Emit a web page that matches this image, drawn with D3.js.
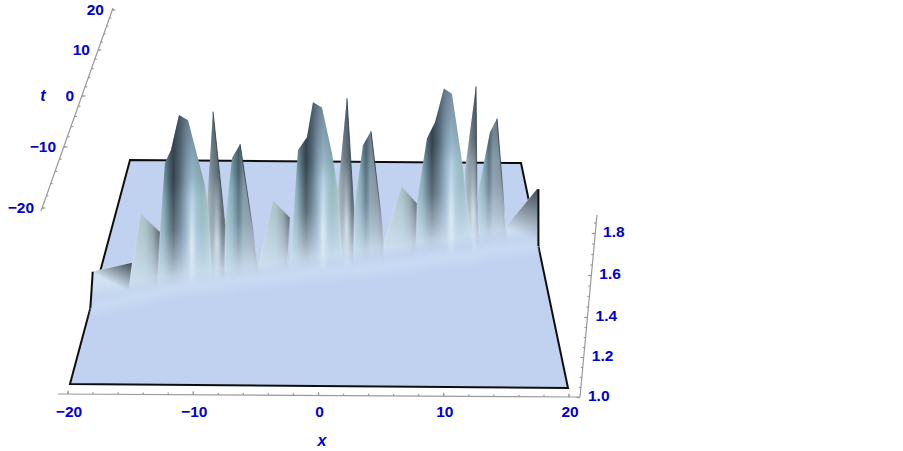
<!DOCTYPE html>
<html>
<head>
<meta charset="utf-8">
<script src="https://cdn.jsdelivr.net/npm/d3@7/dist/d3.min.js"></script>
<style type="text/css">
  html, body{
    margin: 0;
    background: white;
  }
  text{
    font-family: 'Liberation Sans', Arial, sans-serif;
    font-weight: bold;
    font-size: 15.5px;
    fill: #0000cc;
  }
  .axisName{
    font-style: italic;
    font-size: 16px;
  }
  .axisLine{
    stroke: #9a9a9a;
    stroke-width: 1.2;
    fill: none;
  }
</style>
</head>
<body>
<svg id="chart" width="903" height="451"></svg>

<script>

var xTicks = [-20, -10, 0, 10, 20];
var xTickLabels = ["\u221220", "\u221210", "0", "10", "20"];
var tTicks = [-20, -10, 0, 10, 20];
var tTickLabels = ["\u221220", "\u221210", "0", "10", "20"];
var zTicks = [1.0, 1.2, 1.4, 1.6, 1.8];
var zTickLabels = ["1.0", "1.2", "1.4", "1.6", "1.8"];

// one entry per hump of the surface, left to right
var peakKinds = ["edgeL", "ramp", "wide", "spike", "mid", "ramp", "wide", "spike", "mid", "ramp", "wide", "spike", "mid", "edgeR"];
var peakT = [-6.4, -4, -2.56, -2.1, -1.25, -0.68, 0.28, 0.65, 1.05, 1.8, 2.9, 3.5, 4.4, 5.2];
var peakX = [
  [-20, -19.8, -16.4, -16.7],
  [-17.0, -15.87, -14.2, -14.4],
  [-14.61, -14.35, -13.9, -13.37, -12.66, -11.86, -10.36, -10.1, -9.75],
  [-10.2, -9.68, -8.61, -8.61],
  [-8.66, -8.04, -7.32, -5.71, -5.6],
  [-5.66, -4.4, -2.88, -3.1],
  [-2.91, -2.19, -1.38, -0.84, -0.03, 0.87, 1.41, 1.77],
  [1.41, 2.22, 2.85, 2.85],
  [2.86, 3.67, 4.4, 5.57, 5.57],
  [5.6, 7.2, 8.6, 8.5],
  [8.36, 8.6, 9.55, 10.28, 11.1, 11.83, 12.84, 13.67],
  [13.07, 14.08, 14.17, 14.45],
  [14.24, 14.24, 15.44, 16.09, 17.0],
  [17.08, 17.08, 19.87, 20, 20]
];
var peakZ = [
  [1.0, 1.175, 1.22, 1.087],
  [1.024, 1.393, 1.305, 1.05],
  [1.01, 1.267, 1.602, 1.665, 1.835, 1.81, 1.495, 1.398, 1.01],
  [1.388, 1.84, 1.29, 1.02],
  [1.267, 1.592, 1.66, 1.073, 1.01],
  [1.058, 1.374, 1.29, 1.03],
  [1.03, 1.592, 1.655, 1.825, 1.80, 1.578, 1.398, 1.03],
  [1.388, 1.835, 1.29, 1.02],
  [1.28, 1.597, 1.665, 1.136, 1.03],
  [1.10, 1.379, 1.296, 1.03],
  [1.015, 1.267, 1.583, 1.66, 1.825, 1.80, 1.442, 1.04],
  [1.413, 1.82, 1.28, 1.025],
  [1.02, 1.257, 1.573, 1.64, 1.05],
  [1.03, 1.10, 1.277, 1.277, 1.0]
];

var floorColor = "#c0d2f0";
var glowColor = "#cfe0f2";

// horizontal shading of each kind of hump
var bands = {
  edgeL: [[0, "#dbe8f0"], [1, "#c9d8e2"]],
  edgeR: [[0, "#c9d6e2"], [1, "#b5c2cc"]],
  ramp: [[0, "#bcd2d4"], [0.55, "#a3bcbf"], [0.78, "#7f9095"], [0.92, "#4a565c"], [1, "#2f3940"]],
  wide: [[0, "#a9c8cf"], [0.14, "#7fa5b0"], [0.24, "#4e6874"], [0.31, "#35434e"], [0.43, "#5a7180"], [0.55, "#8fabc0"], [0.65, "#a6c6da"], [0.82, "#8eb3ba"], [1, "#a6c6c6"]],
  spike: [[0, "#a5b8bb"], [0.35, "#7b8a93"], [0.7, "#5b6973"], [1, "#2f3a42"]],
  mid: [[0, "#a8c6cd"], [0.22, "#7da6b2"], [0.4, "#4e6673"], [0.55, "#7e95a4"], [0.8, "#76848f"], [1, "#3d4850"]]
};

var svg = d3.select("#chart");
var defs = svg.append("defs");

defs.append("filter").attr("id", "glow")
  .attr("x", "-50%").attr("y", "-200%").attr("width", "200%").attr("height", "500%")
  .append("feGaussianBlur").attr("stdDeviation", 5);
defs.append("filter").attr("id", "streak")
  .attr("x", "-300%").attr("y", "-20%").attr("width", "700%").attr("height", "140%")
  .append("feGaussianBlur").attr("stdDeviation", 1.8);
defs.append("filter").attr("id", "soft")
  .append("feGaussianBlur").attr("stdDeviation", 0.45);

// floor corners on the page
var uScale = d3.scaleLinear().domain([-20, 20]).range([0, 1]);
var vScale = d3.scaleLinear().domain([-20, 20]).range([0, 1]);
var leftX = d3.scaleLinear().domain([0, 1]).range([70, 130]);
var rightX = d3.scaleLinear().domain([0, 1]).range([568, 521]);
var leftY = d3.scaleLinear().domain([0, 1]).range([384, 160]);
var rightY = d3.scaleLinear().domain([0, 1]).range([388, 163]);
var zLift = d3.scaleLinear().domain([1, 1.9]).range([0, 185.4]);

function project(x, t, z) {
  var u = uScale(x), v = vScale(t);
  return [
    leftX(v) + u * (rightX(v) - leftX(v)),
    leftY(v) + u * (rightY(v) - leftY(v)) - zLift(z)
  ];
}

// where the ridge sits on the floor, through the middle of every hump
var ridgeX = peakX.map(function(xs) { return d3.mean(xs); });
ridgeX[0] = -20;
ridgeX[ridgeX.length - 1] = 20;
var ridge = d3.scaleLinear().domain(ridgeX).range(peakT);

function foot(x) {
  return project(x, ridge(x), 1);
}

var plot = svg.append("g").attr("filter", "url(#soft)");

// floor
var floorPath = [project(-20, -20, 1), project(20, -20, 1), project(20, 20, 1), project(-20, 20, 1)];
defs.append("clipPath").attr("id", "floorClip")
  .append("polygon").attr("points", floorPath.join(" "));

plot.append("polygon")
  .attr("points", floorPath.join(" "))
  .attr("fill", floorColor)
  .attr("stroke", "#111")
  .attr("stroke-width", 2)
  .attr("stroke-linejoin", "miter");

// fades shared by all humps, they run square to the ridge so neighbours meet without a seam
var footA = foot(-20), footB = foot(20);
var ridgeSlope = (footB[1] - footA[1]) / (footB[0] - footA[0]);

function squareToRidge(id, topZ) {
  var span = zLift(topZ);
  var midX = (footA[0] + footB[0]) / 2, midY = (footA[1] + footB[1]) / 2;
  return defs.append("linearGradient").attr("id", id)
    .attr("gradientUnits", "userSpaceOnUse")
    .attr("x1", midX + ridgeSlope * span).attr("y1", midY - span)
    .attr("x2", midX).attr("y2", midY);
}

var fade = squareToRidge("fade", 1.55);
fade.append("stop").attr("offset", 0).attr("stop-color", glowColor).attr("stop-opacity", 0);
fade.append("stop").attr("offset", 0.42).attr("stop-color", glowColor).attr("stop-opacity", 0.25);
fade.append("stop").attr("offset", 0.68).attr("stop-color", glowColor).attr("stop-opacity", 0.62);
fade.append("stop").attr("offset", 0.82).attr("stop-color", glowColor).attr("stop-opacity", 0.86);
fade.append("stop").attr("offset", 0.93).attr("stop-color", floorColor).attr("stop-opacity", 1);
fade.append("stop").attr("offset", 1).attr("stop-color", floorColor).attr("stop-opacity", 1);

var dark = squareToRidge("topDark", 1.9);
dark.append("stop").attr("offset", 0).attr("stop-color", "#33414c").attr("stop-opacity", 0.55);
dark.append("stop").attr("offset", 0.5).attr("stop-color", "#33414c").attr("stop-opacity", 0);

// back to front, so the right hand humps go first
var order = d3.range(peakT.length).reverse();

order.forEach(function(i) {
  var t = peakT[i];
  var kind = peakKinds[i];
  var xs = peakX[i], zs = peakZ[i];
  var crest = xs.map(function(x, j) { return project(x, t, zs[j]); });
  var pts = [foot(xs[0])].concat(crest, [foot(xs[xs.length - 1])]);

  var ext = d3.extent(pts, function(p) { return p[0]; });
  var baseY = foot(d3.mean(xs))[1];

  var band = defs.append("linearGradient").attr("id", "band" + i)
    .attr("gradientUnits", "userSpaceOnUse")
    .attr("x1", ext[0]).attr("x2", ext[1]).attr("y1", 0).attr("y2", 0);
  bands[kind].forEach(function(s) {
    band.append("stop").attr("offset", s[0]).attr("stop-color", s[1]);
  });

  plot.append("polygon").attr("points", pts.join(" ")).attr("fill", "url(#band" + i + ")");
  plot.append("polygon").attr("points", pts.join(" ")).attr("fill", "url(#topDark)");
  // stroked as well, or the dark band leaks out along the antialiased foot
  plot.append("polygon").attr("points", pts.join(" "))
    .attr("fill", "url(#fade)")
    .attr("stroke", "url(#fade)")
    .attr("stroke-width", 1.2);

  // darker top facet on the two low humps at the ends
  if (kind == "edgeL" || kind == "edgeR") {
    var facetPts = kind == "edgeL" ? crest.slice(1, 4) : pts;
    var topY = d3.min(crest, function(p) { return p[1]; });
    var facet = defs.append("linearGradient").attr("id", "facet" + i)
      .attr("gradientUnits", "userSpaceOnUse")
      .attr("x1", ext[1] - (kind == "edgeL" ? 15 : 23))
      .attr("y1", topY + (kind == "edgeL" ? 30 : 56))
      .attr("x2", ext[1]).attr("y2", topY);
    facet.append("stop").attr("offset", 0.2).attr("stop-color", "#3a444c").attr("stop-opacity", 0);
    facet.append("stop").attr("offset", 1).attr("stop-color", "#3a444c").attr("stop-opacity", 0.95);
    plot.append("polygon").attr("points", facetPts.join(" ")).attr("fill", "url(#facet" + i + ")");
  }

  // thin dark line down the falling side of the sharper humps
  if (kind == "spike" || kind == "mid") {
    var topIndex = d3.maxIndex(zs);
    var edge = defs.append("linearGradient").attr("id", "edge" + i)
      .attr("gradientUnits", "userSpaceOnUse")
      .attr("x1", 0).attr("x2", 0).attr("y1", crest[topIndex][1]).attr("y2", baseY - 35);
    edge.append("stop").attr("offset", 0).attr("stop-color", "#2f3a42").attr("stop-opacity", 0.9);
    edge.append("stop").attr("offset", 0.6).attr("stop-color", "#2f3a42").attr("stop-opacity", 0.7);
    edge.append("stop").attr("offset", 1).attr("stop-color", "#2f3a42").attr("stop-opacity", 0);
    plot.append("polyline")
      .attr("points", crest.slice(topIndex).join(" "))
      .attr("fill", "none")
      .attr("stroke", "url(#edge" + i + ")")
      .attr("stroke-width", 1);
  }

  // pale streak running into the foot
  if (kind == "wide" || kind == "spike") {
    var streakX = kind == "wide" ? ext[0] + 0.64 * (ext[1] - ext[0]) : ext[0] + 0.55 * (ext[1] - ext[0]);
    var streak = defs.append("linearGradient").attr("id", "streak" + i)
      .attr("gradientUnits", "userSpaceOnUse")
      .attr("x1", 0).attr("x2", 0).attr("y1", baseY - 110).attr("y2", baseY - 4);
    streak.append("stop").attr("offset", 0).attr("stop-color", "#e8f5fa").attr("stop-opacity", 0);
    streak.append("stop").attr("offset", 0.65).attr("stop-color", "#e8f5fa").attr("stop-opacity", 0.7);
    streak.append("stop").attr("offset", 1).attr("stop-color", "#e8f5fa").attr("stop-opacity", 0.2);
    plot.append("rect")
      .attr("x", streakX - 2.5).attr("y", baseY - 110)
      .attr("width", 5).attr("height", 106)
      .attr("fill", "url(#streak" + i + ")")
      .attr("filter", "url(#streak)");
  }
});

// soft light band along the foot of the whole ridge
var apron = d3.line()
  .x(function(d) { return foot(d)[0]; })
  .y(function(d) { return foot(d)[1]; });

var apronG = plot.append("g").attr("clip-path", "url(#floorClip)");
apronG.append("path")
  .attr("d", apron(ridgeX))
  .attr("fill", "none")
  .attr("stroke", "#d6e6f6")
  .attr("stroke-width", 9)
  .attr("stroke-linecap", "round")
  .attr("opacity", 0.6)
  .attr("filter", "url(#glow)");

// the two upright edges of the surface where it is cut at x = +-20
var edges = plot.append("g").attr("stroke", "#111").attr("stroke-width", 2).attr("fill", "none");
[0, peakT.length - 1].forEach(function(i) {
  var side = i == 0 ? 1 : peakX[i].length - 2;
  var a = project(peakX[i][side], peakT[i], peakZ[i][side]);
  var b = foot(i == 0 ? -20 : 20);
  edges.append("line").attr("x1", a[0]).attr("y1", a[1]).attr("x2", b[0]).attr("y2", b[1]);
});

// axes, each one is a straight line on the page
var axisG = svg.append("g");

function drawAxis(posX, posY, extent, minor, major, tickDX, tickDY) {
  axisG.append("line").attr("class", "axisLine")
    .attr("x1", extent[0][0]).attr("y1", extent[0][1])
    .attr("x2", extent[1][0]).attr("y2", extent[1][1]);
  axisG.selectAll(null).data(minor).enter().append("line")
    .attr("class", "axisLine")
    .attr("x1", function(d) { return posX(d); })
    .attr("y1", function(d) { return posY(d); })
    .attr("x2", function(d) { return posX(d) + tickDX; })
    .attr("y2", function(d) { return posY(d) + tickDY; });
  axisG.selectAll(null).data(major).enter().append("line")
    .attr("class", "axisLine")
    .attr("x1", function(d) { return posX(d); })
    .attr("y1", function(d) { return posY(d); })
    .attr("x2", function(d) { return posX(d) + tickDX * 1.7; })
    .attr("y2", function(d) { return posY(d) + tickDY * 1.7; });
}

// x axis
var xAxisX = d3.scaleLinear().domain([-20, 20]).range([68, 569]);
var xAxisY = d3.scaleLinear().domain([-20, 20]).range([394, 397]);
drawAxis(xAxisX, xAxisY, [[58, 394], [580, 397]], d3.range(-20, 21, 2), xTicks, 0, -2);
axisG.selectAll(null).data(xTicks).enter().append("text")
  .attr("x", function(d) { return xAxisX(d) + 1; })
  .attr("y", 417)
  .attr("text-anchor", "middle")
  .text(function(d, i) { return xTickLabels[i]; });
axisG.append("text").attr("class", "axisName")
  .attr("x", 322).attr("y", 446).attr("text-anchor", "middle").text("x");

// t axis, perspective squeezes it towards the far end
var tAxisX = d3.scaleLinear().domain(tTicks).range([42, 64, 82, 98, 112]);
var tAxisY = d3.scaleLinear().domain(tTicks).range([208, 147, 96, 50, 10]);
drawAxis(tAxisX, tAxisY, [[41, 211], [113, 8]], d3.range(-20, 21, 2), tTicks, 2, 0);
axisG.selectAll(null).data(tTicks).enter().append("text")
  .attr("x", function(d) { return tAxisX(d) - 8; })
  .attr("y", function(d) { return tAxisY(d) + 5; })
  .attr("text-anchor", "end")
  .text(function(d, i) { return tTickLabels[i]; });
axisG.append("text").attr("class", "axisName")
  .attr("x", 43).attr("y", 101).attr("text-anchor", "middle").text("t");

// z axis
var zAxisX = d3.scaleLinear().domain([1, 1.9]).range([580, 597]);
var zAxisY = d3.scaleLinear().domain(zTicks).range([397.5, 357.5, 317.5, 275.5, 233.5]);
drawAxis(zAxisX, zAxisY, [[580, 397], [597, 215]], d3.range(1, 1.86, 0.05), zTicks, -2, 0);
axisG.selectAll(null).data(zTicks).enter().append("text")
  .attr("x", function(d) { return zAxisX(d) + 8; })
  .attr("y", function(d) { return zAxisY(d) + 3; })
  .text(function(d, i) { return zTickLabels[i]; });

</script>
</body>
</html>
